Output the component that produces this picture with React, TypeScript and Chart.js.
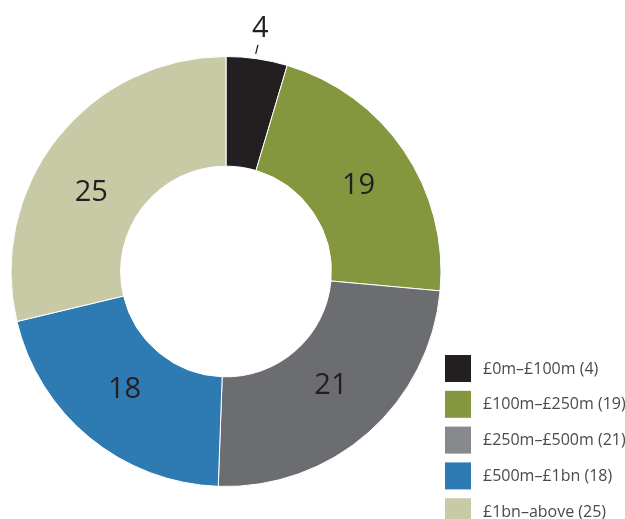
import React, { useEffect, useRef } from "react";
import { Chart, registerables } from "chart.js";

Chart.register(...registerables);

const categories = ["£0m–£100m", "£100m–£250m", "£250m–£500m", "£500m–£1bn", "£1bn–above"];
const values = [4, 19, 21, 18, 25];
const sliceColors = ["#231f20", "#84963e", "#6c6d71", "#2e7bb4", "#c8caa6"];
const legendColors = ["#231f20", "#84963e", "#88898d", "#2e7bb4", "#c8caa6"];

const FONT = "'Open Sans', 'Noto Sans', sans-serif";
const NUM_FONT = "'Liberation Sans Narrow', 'Open Sans', sans-serif";
// label nudges relative to the slice centroid (style only)
const labelOffsets: [number, number][] = [[0, 0], [0, 4], [-1, -6], [0, -6], [-9, 20]];

const labelPlugin = {
  id: "sliceLabels",
  afterDatasetsDraw(chart: any) {
    const ctx = chart.ctx;
    const meta = chart.getDatasetMeta(0);
    ctx.save();
    ctx.fillStyle = "#231f20";
    ctx.font = `29px ${NUM_FONT}`;
    ctx.textAlign = "center";
    ctx.textBaseline = "middle";
    meta.data.forEach((arc: any, i: number) => {
      const v = values[i];
      if (v < 10) {
        const p = arc.getProps(["x", "y", "startAngle", "endAngle", "outerRadius"], true);
        const mid = (p.startAngle + p.endAngle) / 2;
        const r1 = p.outerRadius + 5;
        const r2 = p.outerRadius + 14;
        ctx.strokeStyle = "#231f20";
        ctx.lineWidth = 1.3;
        ctx.beginPath();
        ctx.moveTo(p.x + Math.cos(mid) * r1 - 2, p.y + Math.sin(mid) * r1);
        ctx.lineTo(p.x + Math.cos(mid) * r2 - 1, p.y + Math.sin(mid) * r2);
        ctx.stroke();
        const rt = p.outerRadius + 31;
        ctx.fillText(String(v), p.x + Math.cos(mid) * rt - 1, p.y + Math.sin(mid) * rt + 1);
      } else {
        const pos = arc.tooltipPosition();
        ctx.fillText(String(v), pos.x + labelOffsets[i][0], pos.y + labelOffsets[i][1]);
      }
    });
    ctx.restore();
  },
};

const legendPlugin = {
  id: "customLegend",
  afterDraw(chart: any) {
    const ctx = chart.ctx;
    ctx.save();
    ctx.font = `16px ${FONT}`;
    ctx.textBaseline = "middle";
    ctx.textAlign = "left";
    categories.forEach((c, i) => {
      const y = 355 + i * 35.8;
      ctx.fillStyle = legendColors[i];
      ctx.fillRect(445, y, 26, 27);
      ctx.fillStyle = "#4a4a4c";
      ctx.fillText(`${c} (${values[i]})`, 483, y + 14);
    });
    ctx.restore();
  },
};

export default function App() {
  const ref = useRef<HTMLCanvasElement>(null);
  useEffect(() => {
    if (!ref.current) return;
    const chart = new Chart(ref.current, {
      type: "doughnut",
      data: {
        labels: categories,
        datasets: [
          {
            data: values,
            backgroundColor: sliceColors,
            borderColor: "#ffffff",
            borderWidth: 1,
          },
        ],
      },
      options: {
        responsive: false,
        animation: false,
        cutout: "49%",
        layout: { padding: { left: 10, right: 183, top: 56, bottom: 32 } },
        plugins: { legend: { display: false }, tooltip: { enabled: false } },
      },
      plugins: [labelPlugin, legendPlugin],
    });
    return () => chart.destroy();
  }, []);
  return (
    <div style={{ position: "fixed", left: 0, top: 0, width: 625, height: 519, background: "#fff" }}>
      <canvas ref={ref} width={625} height={519} style={{ width: 625, height: 519 }} />
    </div>
  );
}
